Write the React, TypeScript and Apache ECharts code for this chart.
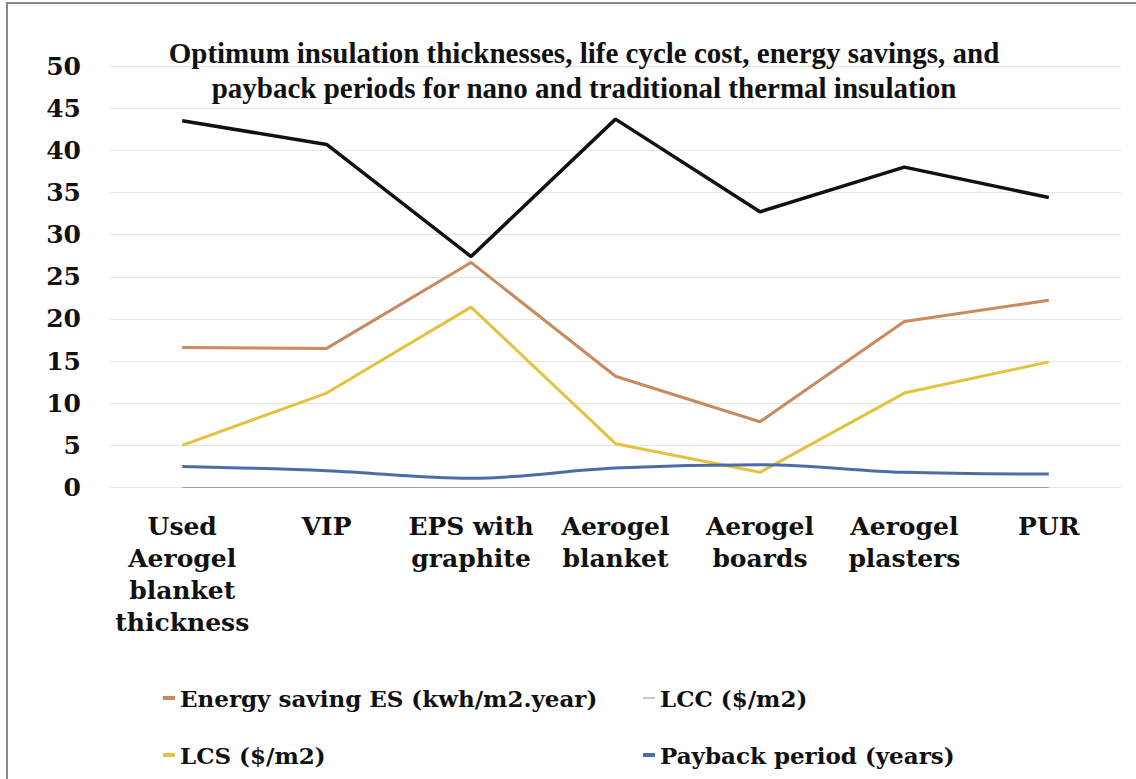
import React, { useEffect, useRef } from "react";
import * as echarts from "echarts";

const categories = [
  "Used\nAerogel\nblanket\nthickness",
  "VIP",
  "EPS with\ngraphite",
  "Aerogel\nblanket",
  "Aerogel\nboards",
  "Aerogel\nplasters",
  "PUR",
];
const thicknessValues = [43.5, 40.7, 27.4, 43.7, 32.7, 38.0, 34.4];
const energySaving = [16.6, 16.5, 26.7, 13.2, 7.8, 19.7, 22.2];
const lccValues = [0, 0, 0, 0, 0, 0, 0];
const lcsValues = [5.0, 11.2, 21.4, 5.2, 1.8, 11.2, 14.9];
const paybackValues = [2.5, 2.0, 1.1, 2.3, 2.7, 1.8, 1.6];
const yTicks = { min: 0, max: 50, interval: 5 };

const TITLE =
  "Optimum insulation thicknesses, life cycle cost, energy savings, and\npayback periods for nano and traditional thermal insulation";

export default function App() {
  const ref = useRef<HTMLDivElement>(null);
  useEffect(() => {
    if (!ref.current) return;
    const chart = echarts.init(ref.current, null, { renderer: "svg" });
    const serif = "DejaVu Serif";
    const legendText = {
      fontFamily: serif,
      fontWeight: "bold" as const,
      fontSize: 23,
      color: "#111",
      lineHeight: 30,
    };
    chart.setOption({
      animation: false,
      backgroundColor: "#fff",
      title: {
        text: TITLE,
        left: 579,
        top: 30,
        textAlign: "center",
        textStyle: {
          fontFamily: "Liberation Serif",
          fontWeight: "bold",
          fontSize: 29,
          lineHeight: 35,
          color: "#111",
        },
      },
      graphic: [
        {
          type: "rect",
          shape: { x: 7, y: 3, width: 1300, height: 1000 },
          style: { fill: "none", stroke: "#8a8a8a", lineWidth: 2 },
          z: 100,
        },
      ],
      legend: [
        {
          orient: "vertical",
          left: 158,
          top: 678,
          itemGap: 27,
          itemWidth: 12,
          itemHeight: 4,
          icon: "rect",
          textStyle: legendText,
          data: ["Energy saving ES (kwh/m2.year)", "LCS ($/m2)"],
        },
        {
          orient: "vertical",
          left: 638,
          top: 678,
          itemGap: 27,
          itemWidth: 12,
          itemHeight: 4,
          icon: "rect",
          textStyle: legendText,
          data: [
            { name: "LCC ($/m2)", icon: "path://M0,0H12V1H0Z" },
            "Payback period (years)",
          ],
        },
      ],
      grid: { left: 110, right: 15, top: 66, bottom: 291.5, containLabel: false },
      xAxis: {
        type: "category",
        data: categories,
        boundaryGap: true,
        axisLine: { show: false },
        axisTick: { show: false },
        axisLabel: {
          interval: 0,
          margin: 23,
          fontFamily: serif,
          fontWeight: "bold",
          fontSize: 25,
          lineHeight: 32,
          color: "#111",
          align: "center",
        },
      },
      yAxis: {
        type: "value",
        min: yTicks.min,
        max: yTicks.max,
        interval: yTicks.interval,
        axisLine: { show: false },
        axisTick: { show: false },
        splitLine: { lineStyle: { color: "#e6e6e6", width: 1 } },
        axisLabel: {
          margin: 29,
          fontFamily: serif,
          fontWeight: "bold",
          fontSize: 25,
          color: "#111",
        },
      },
      series: [
        {
          name: "Optimum thickness",
          type: "line",
          data: thicknessValues,
          symbol: "none",
          lineStyle: { color: "#111", width: 3.5 },
          itemStyle: { color: "#111" },
        },
        {
          name: "Energy saving ES (kwh/m2.year)",
          type: "line",
          data: energySaving,
          symbol: "none",
          lineStyle: { color: "#C98A5E", width: 3 },
          itemStyle: { color: "#C98A5E" },
        },
        {
          name: "LCC ($/m2)",
          type: "line",
          data: lccValues,
          symbol: "none",
          lineStyle: { color: "#8FA4B4", width: 1.2 },
          itemStyle: { color: "#8A949C" },
        },
        {
          name: "LCS ($/m2)",
          type: "line",
          data: lcsValues,
          symbol: "none",
          lineStyle: { color: "#E5C23E", width: 3 },
          itemStyle: { color: "#E5C23E" },
        },
        {
          name: "Payback period (years)",
          type: "line",
          data: paybackValues,
          symbol: "none",
          smooth: 0.35,
          lineStyle: { color: "#4D6CA6", width: 3 },
          itemStyle: { color: "#4D6CA6" },
        },
      ],
    });
    return () => chart.dispose();
  }, []);
  return (
    <div
      ref={ref}
      style={{ position: "absolute", left: 0, top: 0, width: 1136, height: 779 }}
    />
  );
}
